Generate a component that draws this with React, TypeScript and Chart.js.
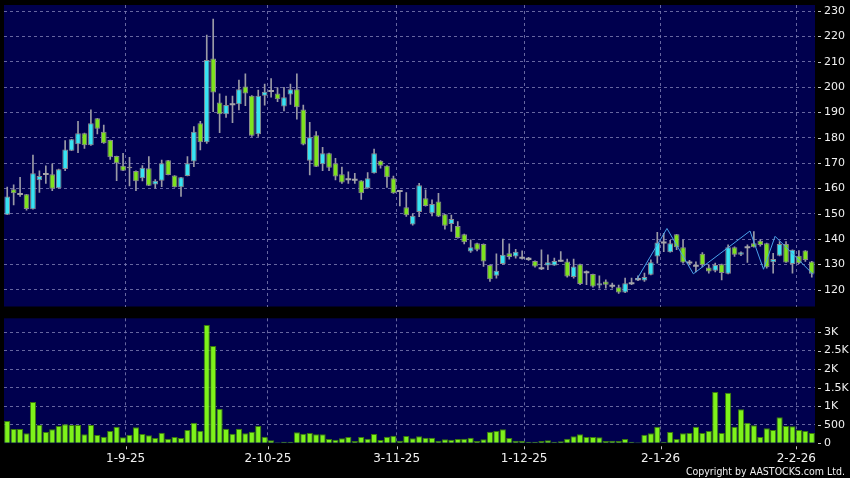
import React, { useEffect, useRef } from 'react';
import { Chart, registerables } from 'chart.js';

Chart.register(...registerables);

// ---- Data ----
const opens = [
  149.6, 159.7, 157.8, 157.7, 151.8, 163.2, 165.7, 165.6, 160.1, 167.7,
  174.9, 177.4, 181.8, 177.0, 187.7, 182.4, 179.1, 172.8, 169.0, 168.0,
  166.9, 164.0, 168.0, 161.6, 163.0, 171.1, 165.1, 160.5, 164.9, 170.6,
  185.7, 178.2, 211.3, 193.9, 189.3, 193.2, 193.2, 200.2, 196.6, 181.4,
  196.6, 198.5, 197.5, 192.3, 197.1, 199.1, 191.2, 170.9, 181.0, 169.5,
  173.9, 169.9, 165.6, 163.6, 163.4, 163.1, 160.1, 166.0, 170.9, 169.0,
  164.0, 159.0, 152.6, 145.8, 150.7, 156.1, 150.2, 154.8, 149.8, 146.0,
  145.2, 141.9, 135.1, 138.4, 138.1, 129.8, 125.5, 130.2, 134.4, 133.1,
  132.6, 132.2, 131.4, 128.5, 129.6, 129.6, 131.5, 131.2, 125.0, 130.1,
  126.9, 126.2, 121.7, 123.3, 121.6, 121.0, 118.9, 122.6, 124.2, 123.7,
  125.9, 133.1, 138.7, 134.8, 141.9, 136.8, 130.8, 129.5, 134.2, 128.8,
  127.5, 130.1, 126.3, 136.8, 133.8, 136.8, 138.4, 139.4, 138.4, 130.9,
  133.4, 138.1, 130.2, 133.4, 135.5, 131.2,
];
const highs = [
  160.5, 161.4, 164.4, 157.7, 173.2, 166.9, 168.9, 169.7, 167.6, 178.9,
  179.4, 186.5, 181.8, 191.0, 187.7, 185.0, 179.1, 172.8, 173.9, 172.3,
  166.9, 169.0, 172.6, 163.5, 171.2, 171.1, 165.1, 164.4, 172.6, 184.4,
  186.5, 220.5, 226.8, 197.3, 196.5, 196.5, 202.8, 205.2, 196.6, 198.8,
  201.2, 203.4, 199.8, 199.9, 201.2, 205.2, 192.9, 186.1, 182.4, 176.2,
  174.0, 171.9, 168.4, 166.6, 166.0, 163.1, 166.3, 175.5, 171.0, 169.0,
  164.9, 159.0, 158.4, 150.0, 162.0, 159.4, 155.5, 158.1, 149.8, 149.5,
  146.9, 142.0, 139.7, 138.4, 138.1, 129.8, 134.2, 140.0, 138.1, 136.0,
  135.4, 132.8, 131.4, 135.8, 133.8, 132.5, 135.1, 132.1, 132.1, 130.1,
  127.5, 126.2, 125.5, 123.9, 122.6, 121.9, 124.6, 124.6, 125.5, 126.6,
  131.8, 142.7, 142.3, 139.5, 141.9, 139.7, 131.6, 131.0, 134.7, 129.8,
  130.5, 130.1, 137.7, 137.0, 135.0, 137.7, 143.0, 139.8, 138.4, 134.4,
  139.0, 139.0, 135.8, 135.5, 135.5, 131.2,
];
const lows = [
  149.6, 153.5, 156.8, 151.4, 151.8, 158.4, 162.0, 159.1, 160.1, 167.0,
  174.9, 174.1, 175.8, 177.0, 181.5, 177.8, 171.5, 163.1, 167.0, 161.0,
  159.1, 163.0, 161.1, 160.1, 160.7, 165.3, 160.5, 156.8, 164.9, 168.6,
  175.2, 177.8, 190.3, 182.0, 188.0, 186.0, 191.0, 192.7, 180.5, 180.5,
  192.9, 196.0, 194.2, 190.6, 193.2, 187.3, 177.2, 165.3, 168.6, 167.0,
  167.0, 163.4, 162.0, 162.0, 162.0, 155.7, 160.0, 166.0, 168.0, 160.4,
  158.0, 153.1, 149.0, 145.5, 148.9, 153.0, 149.2, 148.9, 143.9, 143.0,
  140.4, 138.1, 134.7, 135.3, 129.2, 123.3, 124.6, 130.0, 132.1, 132.5,
  132.1, 131.6, 128.9, 127.9, 127.9, 129.6, 131.2, 125.0, 124.6, 122.0,
  122.0, 121.0, 120.6, 120.6, 120.6, 118.6, 118.9, 122.0, 123.6, 123.3,
  125.9, 130.5, 135.0, 134.8, 135.8, 130.5, 129.8, 127.0, 129.0, 126.6,
  127.0, 123.9, 126.3, 133.2, 133.5, 130.8, 136.8, 137.2, 128.5, 126.6,
  133.4, 130.8, 126.6, 130.3, 131.2, 125.0,
];
const closes = [
  156.8, 158.1, 157.8, 151.9, 166.0, 164.9, 165.7, 159.9, 167.6, 175.4,
  179.4, 181.8, 177.0, 185.7, 183.6, 177.8, 172.3, 169.9, 167.0, 168.6,
  162.8, 168.2, 161.1, 163.0, 169.9, 165.3, 160.5, 164.4, 169.9, 182.4,
  178.2, 210.7, 197.9, 189.3, 192.9, 193.2, 199.1, 197.5, 180.8, 196.6,
  198.2, 198.5, 195.2, 196.0, 199.1, 192.0, 177.3, 180.2, 168.6, 173.9,
  168.2, 164.7, 162.3, 163.6, 163.4, 158.1, 164.0, 173.9, 169.0, 164.4,
  158.1, 159.0, 149.4, 149.2, 161.3, 153.1, 153.9, 148.9, 145.3, 147.9,
  140.4, 138.8, 136.8, 135.8, 131.2, 124.2, 127.5, 133.8, 132.9, 135.0,
  132.6, 132.2, 129.2, 128.5, 130.9, 131.4, 131.5, 125.2, 129.2, 122.3,
  126.9, 121.3, 122.6, 122.0, 121.6, 118.9, 122.6, 122.6, 124.2, 125.0,
  130.9, 138.7, 138.7, 138.4, 136.8, 130.8, 130.8, 129.5, 129.8, 127.2,
  129.8, 126.6, 136.8, 133.8, 134.8, 136.8, 136.8, 137.7, 128.9, 132.1,
  138.1, 130.8, 135.8, 130.5, 131.8, 126.3,
];
const volumes = [
  601, 385, 385, 269, 1113, 502, 305, 377, 467, 512,
  494, 494, 243, 494, 224, 179, 332, 449, 162, 233,
  431, 251, 216, 143, 287, 125, 170, 143, 359, 557,
  341, 3188, 2623, 934, 395, 260, 395, 269, 314, 467,
  179, 85, 30, 44, 44, 296, 260, 278, 243, 243,
  116, 98, 134, 170, 62, 170, 125, 251, 89, 179,
  206, 71, 197, 134, 188, 152, 152, 71, 107, 98,
  116, 125, 152, 62, 107, 314, 332, 377, 143, 71,
  71, 44, 44, 62, 80, 44, 53, 125, 192, 242,
  170, 170, 162, 62, 71, 62, 116, 44, 26, 233,
  268, 449, 44, 305, 116, 268, 278, 449, 278, 332,
  1383, 278, 1365, 449, 916, 557, 485, 170, 404, 359,
  701, 467, 458, 359, 332, 278,
];
// thin blue overlay line (vertex positions in candle units, prices)
const overlayX = [97.8, 102.5, 106.6, 115.4, 117.5, 119.3, 125.2];
const overlayY = [124.0, 144.2, 126.3, 143.2, 128.1, 141.1, 126.1];

const xTickPos = [18.4, 40.5, 60.5, 80.3, 101.5, 122.6];
const xTickLabels = ['1-9-25', '2-10-25', '3-11-25', '1-12-25', '2-1-26', '2-2-26'];
const priceTicks = [120, 130, 140, 150, 160, 170, 180, 190, 200, 210, 220, 230];
const volTicks = [0, 500, 1000, 1500, 2000, 2500, 3000];
const volTickLabels = ['0', '500', '1K', '1.5K', '2K', '2.5K', '3K'];

// ---- Styles ----
const PLOT_BG = '#00004e';
const GRID = 'rgba(120,120,175,0.85)';
const TEXT = '#f0f0f0';
const UP = '#38e4f2';
const DOWN = '#7ee21e';
const DOJI = '#a4a4a8';
const WICK = '#9a9aa6';
const BODY_EDGE = '#8a8a90';
const VOL = '#7ef21a';
const VOL_EDGE = '#3a7a0c';
const FONT = 'DejaVu Sans';

const bgPlugin = {
  id: 'plotBg',
  beforeDraw(chart: any) {
    const { ctx, chartArea } = chart;
    ctx.save();
    ctx.fillStyle = PLOT_BG;
    ctx.fillRect(chartArea.left, chartArea.top, chartArea.right - chartArea.left, chartArea.bottom - chartArea.top);
    ctx.restore();
  },
};

function tickMarkPlugin(withX: boolean) {
  return {
    id: 'tickMarks',
    afterDraw(chart: any) {
      const { ctx, chartArea, scales } = chart;
      ctx.save();
      ctx.strokeStyle = '#c8c8c8';
      ctx.lineWidth = 1;
      ctx.beginPath();
      const ys = scales.y;
      ys.ticks.forEach((t: any) => {
        const y = Math.round(ys.getPixelForValue(t.value)) + 0.5;
        ctx.moveTo(chartArea.right + 3, y);
        ctx.lineTo(chartArea.right + 6, y);
      });
      if (withX) {
        const xs = scales.x;
        xs.ticks.forEach((t: any) => {
          const x = Math.round(xs.getPixelForValue(t.value)) + 0.5;
          ctx.moveTo(x, chartArea.bottom + 3);
          ctx.lineTo(x, chartArea.bottom + 6);
        });
      }
      ctx.stroke();
      ctx.restore();
    },
  };
}

const noPad = (s: any) => {
  s.paddingTop = 0;
  s.paddingBottom = 0;
  s.paddingLeft = 0;
  s.paddingRight = 0;
};

export default function App() {
  const priceRef = useRef<HTMLCanvasElement>(null);
  const volRef = useRef<HTMLCanvasElement>(null);

  useEffect(() => {
    document.body.style.margin = '0';
    document.body.style.background = '#000';
    Chart.defaults.font.family = FONT;

    const n = closes.length;
    const bodies: any[] = [];
    const wicks: any[] = [];
    const bodyColors: string[] = [];
    const bodyBorders: number[] = [];
    for (let i = 0; i < n; i++) {
      const o = opens[i];
      const c = closes[i];
      const lo = Math.min(o, c);
      const hi = Math.max(o, c);
      if (hi - lo < 0.5) {
        const m = (lo + hi) / 2;
        bodies.push({ x: i, y: [m - 0.4, m + 0.4] });
        bodyColors.push(DOJI);
        bodyBorders.push(0);
      } else {
        bodies.push({ x: i, y: [lo, hi] });
        bodyColors.push(c > o ? UP : DOWN);
        bodyBorders.push(1);
      }
      wicks.push({ x: i, y: [lows[i], highs[i]] });
    }

    const xCommon = {
      type: 'linear' as const,
      min: -0.5,
      max: n - 0.5,
      offset: false,
      afterBuildTicks: (s: any) => {
        s.ticks = xTickPos.map((v) => ({ value: v }));
      },
    };

    const price = new Chart(priceRef.current!, {
      type: 'bar',
      data: {
        datasets: [
          {
            type: 'line',
            data: overlayX.map((x, i) => ({ x, y: overlayY[i] })),
            borderColor: '#4aa2ea',
            borderWidth: 1,
            pointRadius: 0,
            order: 0,
          } as any,
          {
            data: bodies,
            backgroundColor: bodyColors,
            borderColor: BODY_EDGE,
            borderWidth: bodyBorders,
            borderSkipped: false,
            grouped: false,
            categoryPercentage: 1,
            barPercentage: 0.88,
            order: 1,
          } as any,
          {
            data: wicks,
            backgroundColor: WICK,
            borderWidth: 0,
            grouped: false,
            maxBarThickness: 1,
            categoryPercentage: 1,
            barPercentage: 1,
            order: 2,
          } as any,
        ],
      },
      options: {
        responsive: false,
        animation: false,
        layout: { padding: { left: 4, top: 5, right: 0, bottom: 0 } },
        plugins: { legend: { display: false }, tooltip: { enabled: false } },
        scales: {
          x: {
            ...xCommon,
            ticks: { display: false },
            grid: { color: GRID, drawTicks: false, offset: false },
            border: { display: false, dash: [3, 3] },
            afterFit: (s: any) => {
              noPad(s);
              s.height = 3.5;
            },
          },
          y: {
            position: 'right',
            min: 113.4,
            max: 232.4,
            afterBuildTicks: (s: any) => {
              s.ticks = priceTicks.map((v) => ({ value: v }));
            },
            ticks: { color: TEXT, font: { size: 11 }, padding: 9 },
            grid: { color: GRID, drawTicks: false },
            border: { display: false, dash: [3, 3] },
            afterFit: (s: any) => {
              noPad(s);
              s.width = 35;
            },
          },
        } as any,
      },
      plugins: [bgPlugin, tickMarkPlugin(false)],
    });

    const vol = new Chart(volRef.current!, {
      type: 'bar',
      data: {
        datasets: [
          {
            data: volumes.map((v, i) => ({ x: i, y: v })),
            backgroundColor: VOL,
            borderColor: VOL_EDGE,
            borderWidth: 1,
            categoryPercentage: 1,
            barPercentage: 0.96,
          } as any,
        ],
      },
      options: {
        responsive: false,
        animation: false,
        layout: { padding: { left: 4, top: 8.3, right: 0, bottom: 0 } },
        plugins: { legend: { display: false }, tooltip: { enabled: false } },
        scales: {
          x: {
            ...xCommon,
            ticks: {
              color: TEXT,
              font: { size: 12 },
              padding: 8,
              autoSkip: false,
              maxRotation: 0,
              callback: (_v: any, i: number) => xTickLabels[i],
            },
            grid: { color: GRID, drawTicks: false, offset: false },
            border: { display: false, dash: [3, 3] },
            afterFit: (s: any) => {
              noPad(s);
              s.height = 34.7;
            },
          },
          y: {
            position: 'right',
            min: 0,
            max: 3370,
            afterBuildTicks: (s: any) => {
              s.ticks = volTicks.map((v) => ({ value: v }));
            },
            ticks: {
              color: TEXT,
              font: { size: 11 },
              padding: 9,
              callback: (_v: any, i: number) => volTickLabels[i],
            },
            grid: {
              color: (c: any) => (c.tick && c.tick.value === 0 ? 'rgba(0,0,0,0)' : GRID),
              drawTicks: false,
            },
            border: { display: false, dash: [3, 3] },
            afterFit: (s: any) => {
              noPad(s);
              s.width = 35;
            },
          },
        } as any,
      },
      plugins: [bgPlugin, tickMarkPlugin(true)],
    });

    return () => {
      price.destroy();
      vol.destroy();
    };
  }, []);

  return (
    <div style={{ position: 'relative', width: 850, height: 478, background: '#000', overflow: 'hidden' }}>
      <canvas ref={priceRef} width={850} height={310} style={{ position: 'absolute', left: 0, top: 0, width: 850, height: 310 }} />
      <canvas ref={volRef} width={850} height={168} style={{ position: 'absolute', left: 0, top: 310, width: 850, height: 168 }} />
      <div
        style={{
          position: 'absolute',
          right: 5,
          top: 465,
          color: '#f0f0f0',
          fontFamily: '"DejaVu Sans Condensed", "DejaVu Sans", sans-serif',
          fontSize: '10.5px',
          lineHeight: '12px',
          whiteSpace: 'nowrap',
        }}
      >
        Copyright by AASTOCKS.com Ltd.
      </div>
    </div>
  );
}
